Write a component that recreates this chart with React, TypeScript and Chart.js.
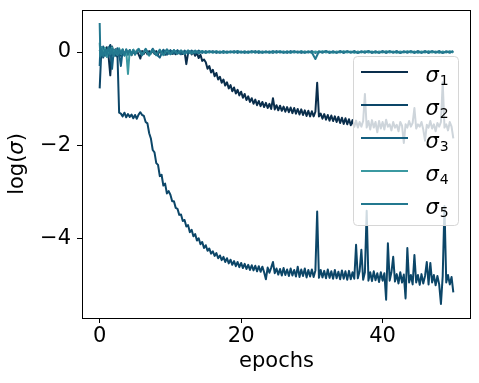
import React, { useEffect, useRef } from 'react';
import { Chart, registerables } from 'chart.js';

Chart.register(...registerables);

// fine epoch grid (sigma1, sigma2)
const epochsFine = [
  0, 0.25, 0.5, 0.75, 1, 1.25, 1.5, 1.75, 2, 2.25, 2.5, 2.75, 3, 3.25, 3.5, 3.75, 4, 4.25, 4.5, 4.75,
  5, 5.25, 5.5, 5.75, 6, 6.25, 6.5, 6.75, 7, 7.25, 7.5, 7.75, 8, 8.25, 8.5, 8.75, 9, 9.25, 9.5, 9.75,
  10, 10.25, 10.5, 10.75, 11, 11.25, 11.5, 11.75, 12, 12.25, 12.5, 12.75, 13, 13.25, 13.5, 13.75, 14, 14.25, 14.5, 14.75,
  15, 15.25, 15.5, 15.75, 16, 16.25, 16.5, 16.75, 17, 17.25, 17.5, 17.75, 18, 18.25, 18.5, 18.75, 19, 19.25, 19.5, 19.75,
  20, 20.25, 20.5, 20.75, 21, 21.25, 21.5, 21.75, 22, 22.25, 22.5, 22.75, 23, 23.25, 23.5, 23.75, 24, 24.25, 24.5, 24.75,
  25, 25.25, 25.5, 25.75, 26, 26.25, 26.5, 26.75, 27, 27.25, 27.5, 27.75, 28, 28.25, 28.5, 28.75, 29, 29.25, 29.5, 29.75,
  30, 30.25, 30.5, 30.75, 31, 31.25, 31.5, 31.75, 32, 32.25, 32.5, 32.75, 33, 33.25, 33.5, 33.75, 34, 34.25, 34.5, 34.75,
  35, 35.25, 35.5, 35.75, 36, 36.25, 36.5, 36.75, 37, 37.25, 37.5, 37.75, 38, 38.25, 38.5, 38.75, 39, 39.25, 39.5, 39.75,
  40, 40.25, 40.5, 40.75, 41, 41.25, 41.5, 41.75, 42, 42.25, 42.5, 42.75, 43, 43.25, 43.5, 43.75, 44, 44.25, 44.5, 44.75,
  45, 45.25, 45.5, 45.75, 46, 46.25, 46.5, 46.75, 47, 47.25, 47.5, 47.75, 48, 48.25, 48.5, 48.75, 49, 49.25, 49.5, 49.75,
  50,
];

// coarse epoch grid (sigma3, sigma4, sigma5)
const epochsCoarse = [
  0, 0.1, 0.25, 0.5, 0.75, 1, 1.25, 1.5, 1.75, 2, 2.25, 2.5, 2.75, 3, 3.25, 3.5, 3.75, 4, 4.25, 4.5, 4.75, 5,
  5.5, 6, 6.5, 7, 7.5, 8, 8.5, 9, 9.5, 10,
  10.5, 11, 11.5, 12, 12.5, 13, 13.5, 14, 14.5, 15,
  15.5, 16, 16.5, 17, 17.5, 18, 18.5, 19, 19.5, 20,
  20.5, 21, 21.5, 22, 22.5, 23, 23.5, 24, 24.5, 25,
  25.5, 26, 26.5, 27, 27.5, 28, 28.5, 29, 29.5, 30,
  30.5, 31, 31.5, 32, 32.5, 33, 33.5, 34, 34.5, 35,
  35.5, 36, 36.5, 37, 37.5, 38, 38.5, 39, 39.5, 40,
  40.5, 41, 41.5, 42, 42.5, 43, 43.5, 44, 44.5, 45,
  45.5, 46, 46.5, 47, 47.5, 48, 48.5, 49, 49.5, 50,
];

const sigma1 = [
  0.05, -0.1, 0.08, -0.05, 0.1, -0.08, -0.5, 0.12, -0.05, 0.06, -0.1, 0.04, -0.08, 0.05, -0.06, 0.03, -0.05, 0.04, -0.07, 0.02,
  -0.04, 0.03, -0.05, -0.14, 0.02, -0.04, 0.03, -0.05, 0.02, -0.03, 0.03, -0.04, 0.02, -0.05, 0.03, -0.03, 0.02, -0.06, 0.03, -0.03,
  0.02, -0.04, 0.03, -0.05, 0.01, -0.03, 0.02, -0.04, 0.01, -0.26, -0.02, 0.01, -0.05, 0.0, -0.08, -0.02, -0.13, -0.06, -0.19, -0.16,
  -0.22, -0.36, -0.3, -0.44, -0.38, -0.52, -0.45, -0.59, -0.53, -0.66, -0.59, -0.72, -0.65, -0.78, -0.71, -0.84, -0.76, -0.89, -0.81, -0.93,
  -0.85, -0.98, -0.9, -1.03, -0.95, -1.07, -0.99, -1.11, -1.02, -1.14, -1.05, -1.16, -1.07, -1.18, -1.09, -1.2, -1.11, -1.22, -0.99, -1.23,
  -1.14, -1.25, -1.15, -1.26, -1.17, -1.28, -1.18, -1.29, -1.19, -1.31, -1.2, -1.32, -1.22, -1.34, -1.23, -1.35, -1.25, -1.37, -1.26, -1.38,
  -1.27, -1.38, -1.28, -0.66, -1.38, -1.32, -1.43, -1.33, -1.45, -1.35, -1.47, -1.36, -1.48, -1.38, -1.5, -1.39, -1.52, -1.41, -1.54, -1.42,
  -1.55, -1.44, -1.57, -1.46, -1.6, -1.47, -1.62, -1.5, -1.6, -1.48, -0.9, -1.62, -1.48, -1.66, -1.46, -1.62, -1.5, -1.72, -1.48, -1.64,
  -1.5, -1.66, -1.45, -1.6, -1.55, -1.68, -1.5, -1.62, -1.56, -1.7, -1.5, -1.58, -1.95, -1.55, -1.62, -1.48, -1.6, -1.52, -1.2, -1.64,
  -1.55, -1.6, -1.5, -1.66, -1.9, -1.56, -1.62, -1.48, -1.64, -1.55, -1.7, -1.52, -1.6, -1.5, -0.65, -1.62, -1.55, -1.68, -1.5, -1.6,
  -1.85,
];

const sigma2 = [
  -0.78, 0.1, -0.12, 0.08, -0.1, 0.06, 0.15, -0.06, 0.05, -0.08, 0.02, -1.3, -1.32, -1.38, -1.3, -1.4, -1.33, -1.39, -1.34, -1.42,
  -1.35, -1.43, -1.34, -1.29, -1.35, -1.37, -1.5, -1.53, -1.74, -1.86, -2.1, -2.15, -2.38, -2.42, -2.66, -2.63, -2.86, -2.82, -3.03, -2.98,
  -3.06, -3.2, -3.2, -3.34, -3.36, -3.49, -3.48, -3.62, -3.6, -3.74, -3.71, -3.86, -3.81, -3.95, -3.9, -4.04, -3.99, -4.12, -4.07, -4.2,
  -4.14, -4.26, -4.21, -4.32, -4.27, -4.37, -4.31, -4.42, -4.36, -4.46, -4.39, -4.5, -4.42, -4.53, -4.45, -4.56, -4.48, -4.59, -4.5, -4.61,
  -4.52, -4.63, -4.54, -4.65, -4.56, -4.67, -4.57, -4.68, -4.58, -4.7, -4.59, -4.71, -4.6, -4.72, -4.87, -4.62, -4.73, -4.62, -4.5, -4.74,
  -4.64, -4.77, -4.65, -4.79, -4.63, -4.78, -4.66, -4.8, -4.64, -4.79, -4.67, -4.81, -4.6, -4.82, -4.66, -4.8, -4.64, -4.83, -4.67, -4.81,
  -4.66, -4.82, -4.68, -3.42, -4.84, -4.67, -4.83, -4.69, -4.85, -4.66, -4.84, -4.7, -4.86, -4.67, -4.85, -4.71, -4.87, -4.68, -4.86, -4.7,
  -4.88, -4.69, -4.87, -4.72, -4.86, -4.13, -4.85, -4.7, -4.24, -4.88, -4.72, -3.4, -4.9, -4.72, -4.91, -4.7, -4.89, -4.74, -4.93, -4.72,
  -4.9, -4.74, -5.31, -4.1, -4.9, -4.72, -4.39, -4.92, -4.76, -4.96, -4.72, -4.94, -4.77, -5.28, -4.2, -4.94, -4.78, -4.98, -4.35, -4.94,
  -4.78, -4.99, -4.76, -4.96, -4.8, -4.5, -4.98, -4.52, -4.94, -4.78, -5.0, -4.8, -4.98, -5.4, -4.8, -3.3, -4.94, -4.78, -4.98, -4.82,
  -5.15,
];

const sigma3 = [
  -0.3, 0.1, -0.06, 0.12, -0.08, 0.05, -0.1, 0.08, -0.36, 0.04, -0.05, 0.08, -0.04, -0.3, 0.03, -0.05, 0.04, -0.06, 0.03, -0.04, 0.05, -0.03,
  0.06, -0.07, 0.05, -0.06, 0.07, -0.05, -0.12, 0.05, -0.06, 0.04,
  -0.04, 0.04, -0.05, 0.03, -0.04, 0.03, -0.03, 0.03, -0.02, 0.02,
  -0.01, 0.02, -0.02, 0.01, -0.02, 0.01, -0.01, 0.02, -0.02, 0.01,
  -0.02, 0.01, -0.01, 0.02, -0.02, 0.01, -0.01, 0.01, -0.02, 0.02,
  -0.01, 0.01, -0.02, 0.02, -0.01, 0.01, -0.02, 0.01, -0.01, 0.02,
  -0.02, 0.01, -0.01, 0.02, -0.02, 0.01, -0.01, 0.02, -0.02, 0.01,
  -0.01, 0.02, -0.02, 0.01, -0.01, 0.02, -0.02, 0.01, -0.01, 0.02,
  -0.02, 0.01, -0.01, 0.02, -0.02, 0.01, -0.01, 0.01, -0.02, 0.02,
  -0.01, 0.02, -0.02, 0.01, -0.01, 0.02, -0.02, 0.01, -0.01, 0.01,
];

const sigma4 = [
  0.2, -0.08, 0.1, -0.06, 0.09, -0.1, 0.06, -0.04, 0.1, -0.07, 0.05, -0.06, 0.08, -0.05, 0.06, -0.07, 0.03, -0.47, 0.04, -0.06, 0.05, -0.04,
  0.07, -0.06, 0.05, -0.08, 0.04, -0.06, 0.05, -0.07, 0.04, -0.05,
  0.04, -0.04, 0.03, -0.04, 0.03, -0.03, 0.02, -0.02, 0.02, -0.02,
  0.01, -0.01, 0.02, -0.01, 0.01, -0.02, 0.01, -0.01, 0.02, -0.01,
  0.01, -0.02, 0.01, -0.01, 0.02, -0.01, 0.01, -0.02, 0.01, -0.01,
  0.02, -0.01, 0.01, -0.02, 0.01, -0.01, 0.02, -0.01, 0.01, -0.02,
  0.01, -0.01, 0.02, -0.01, 0.01, -0.02, 0.01, -0.01, 0.02, -0.01,
  0.01, -0.02, 0.01, -0.01, 0.02, -0.01, 0.01, -0.02, 0.01, -0.01,
  0.02, -0.01, 0.01, -0.02, 0.01, -0.01, 0.02, -0.01, 0.01, -0.02,
  0.01, -0.01, 0.02, -0.01, 0.01, -0.02, 0.01, -0.01, 0.02, -0.01,
];

const sigma5 = [
  0.62, -0.1, 0.07, -0.09, 0.05, -0.06, 0.1, -0.05, 0.07, -0.09, 0.04, -0.05, 0.06, -0.04, 0.05, -0.08, 0.06, -0.03, 0.04, -0.05, 0.03, -0.06,
  0.06, -0.05, 0.07, -0.06, 0.05, -0.07, 0.04, -0.05, 0.06, -0.04,
  0.04, -0.03, 0.03, -0.04, 0.03, -0.02, 0.03, -0.03, 0.02, -0.02,
  0.02, -0.01, 0.01, -0.02, 0.02, -0.01, 0.01, -0.01, 0.02, -0.01,
  0.01, -0.01, 0.02, -0.01, 0.01, -0.02, 0.01, -0.01, 0.02, -0.01,
  0.01, -0.02, 0.01, -0.01, 0.02, -0.01, 0.01, -0.02, 0.01, -0.01,
  -0.15, 0.01, -0.01, 0.02, -0.01, 0.01, -0.02, 0.01, -0.01, 0.02,
  -0.01, 0.01, -0.02, 0.01, -0.01, 0.02, -0.01, 0.01, -0.02, 0.01,
  -0.01, 0.02, -0.01, 0.01, -0.02, 0.01, -0.01, 0.02, -0.01, 0.01,
  -0.02, 0.01, -0.01, 0.02, -0.01, 0.01, -0.02, 0.01, -0.01, 0.02,
];

const seriesSubscripts = ['1', '2', '3', '4', '5'];
const seriesColors = ['#0a2e4c', '#0c4668', '#145f80', '#3b99a1', '#23788f'];
const xTicks = [0, 20, 40];
const yTicks = [-4, -2, 0];

const FONT = "'DejaVu Sans', sans-serif";

export default function App() {
  const ref = useRef<HTMLCanvasElement>(null);

  useEffect(() => {
    const canvas = ref.current;
    if (!canvas) return;
    const series = [
      { vals: sigma1, xs: epochsFine },
      { vals: sigma2, xs: epochsFine },
      { vals: sigma3, xs: epochsCoarse },
      { vals: sigma4, xs: epochsCoarse },
      { vals: sigma5, xs: epochsCoarse },
    ];

    const frameAndLegend = {
      id: 'frameAndLegend',
      afterDatasetsDraw(chart: any) {
        const { ctx, chartArea: a } = chart;
        ctx.save();
        // axes frame
        ctx.strokeStyle = '#000';
        ctx.lineWidth = 1;
        ctx.strokeRect(Math.round(a.left) + 0.5, Math.round(a.top) + 0.5, Math.round(a.right - a.left) - 1, Math.round(a.bottom - a.top));
        // legend box
        const bx = a.right - 117.5;
        const by = a.top + 46.5;
        const bw = 105;
        const bh = 169;
        ctx.beginPath();
        ctx.roundRect(bx, by, bw, bh, 4);
        ctx.fillStyle = 'rgba(255,255,255,0.8)';
        ctx.fill();
        ctx.strokeStyle = '#d6d6d6';
        ctx.lineWidth = 1;
        ctx.stroke();
        chart.data.datasets.forEach((ds: any, i: number) => {
          const y = Math.round(by + 15.8 + i * 32.8);
          ctx.beginPath();
          ctx.moveTo(bx + 7.5, y);
          ctx.lineTo(bx + 54.5, y);
          ctx.strokeStyle = ds.borderColor;
          ctx.lineWidth = 2;
          ctx.stroke();
          ctx.fillStyle = '#000';
          ctx.textAlign = 'left';
          ctx.textBaseline = 'alphabetic';
          ctx.font = `italic 21px ${FONT}`;
          ctx.fillText('σ', bx + 72, y + 9.5);
          const w = ctx.measureText('σ').width;
          ctx.font = `14px ${FONT}`;
          ctx.fillText(seriesSubscripts[i], bx + 72 + w + 1, y + 12.8);
        });
        // y axis title: log(σ) with italic sigma
        const cy = (a.top + a.bottom) / 2;
        ctx.translate(17.6, cy);
        ctx.rotate(-Math.PI / 2);
        ctx.textBaseline = 'middle';
        ctx.fillStyle = '#000';
        const parts = [
          { t: 'log(', f: `21px ${FONT}` },
          { t: 'σ', f: `italic 21px ${FONT}` },
          { t: ')', f: `21px ${FONT}` },
        ];
        let total = 0;
        const widths = parts.map((p) => {
          ctx.font = p.f;
          const wv = ctx.measureText(p.t).width;
          total += wv;
          return wv;
        });
        let xx = -total / 2;
        parts.forEach((p, k) => {
          ctx.font = p.f;
          ctx.fillText(p.t, xx, 0);
          xx += widths[k];
        });
        ctx.restore();
      },
    };

    const chart = new Chart(canvas, {
      type: 'line',
      data: {
        datasets: series.map((s, i) => ({
          label: 'σ' + seriesSubscripts[i],
          data: s.xs.map((x, j) => ({ x, y: s.vals[j] })),
          borderColor: seriesColors[i],
          backgroundColor: seriesColors[i],
          borderWidth: 2,
          pointRadius: 0,
          pointHoverRadius: 0,
          fill: false,
          tension: 0,
          order: 5 - i,
          borderJoinStyle: 'round' as const,
        })),
      },
      options: {
        responsive: false,
        animation: false,
        events: [],
        layout: { padding: { top: 10, right: 8, left: 0, bottom: 0 } },
        plugins: {
          legend: { display: false },
          tooltip: { enabled: false },
        },
        scales: {
          x: {
            type: 'linear',
            min: -2.5,
            max: 52.5,
            afterBuildTicks: (s: any) => {
              s.ticks = xTicks.map((v) => ({ value: v }));
            },
            afterFit: (s: any) => {
              s.height = 65;
              s.paddingLeft = 0;
              s.paddingRight = 0;
            },
            ticks: {
              color: '#000',
              font: { family: FONT, size: 21 },
              padding: 1,
              maxRotation: 0,
              autoSkip: false,
              callback: (v: any) => String(v),
            },
            grid: {
              drawOnChartArea: false,
              drawTicks: true,
              tickLength: 5,
              color: '#000',
              lineWidth: 1,
            },
            border: { display: false },
            title: {
              display: true,
              text: 'epochs',
              color: '#000',
              font: { family: FONT, size: 21 },
              padding: { top: 0, bottom: 9 },
            },
          },
          y: {
            type: 'linear',
            min: -5.7,
            max: 0.9,
            afterBuildTicks: (s: any) => {
              s.ticks = yTicks.map((v) => ({ value: v }));
            },
            afterFit: (s: any) => {
              s.width = 82;
              s.paddingTop = 0;
              s.paddingBottom = 0;
            },
            ticks: {
              color: '#000',
              font: { family: FONT, size: 21 },
              padding: 6,
              autoSkip: false,
              callback: (v: any) => (v < 0 ? '\u2212' + Math.abs(v) : String(v)),
            },
            grid: {
              drawOnChartArea: false,
              drawTicks: true,
              tickLength: 5,
              color: '#000',
              lineWidth: 1,
            },
            border: { display: false },
            title: { display: false },
          },
        },
      },
      plugins: [frameAndLegend],
    } as any);

    return () => chart.destroy();
  }, []);

  return (
    <div style={{ position: 'absolute', left: 0, top: 0, width: 479, height: 383, background: '#fff' }}>
      <canvas ref={ref} width={479} height={383} style={{ display: 'block', width: 479, height: 383 }} />
    </div>
  );
}
